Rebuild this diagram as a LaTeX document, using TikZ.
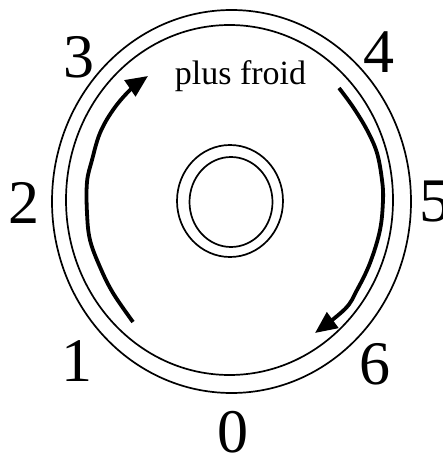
\documentclass[tikz,border=0pt]{standalone}
\usepackage{fontspec}
\setmainfont{Liberation Serif}
\usetikzlibrary{arrows.meta}
\begin{document}
\begin{tikzpicture}[x=1pt,y=-1pt,
  ring/.style={line width=1.7pt},
  flow/.style={line width=3.8pt,-{Triangle[length=22pt,width=19pt]}},
  num/.style={inner sep=0pt,font=\fontsize{62}{62}\selectfont},
  lbl/.style={inner sep=0pt,anchor=base,font=\fontsize{34}{34}\selectfont}]
\useasboundingbox (0,0) rectangle (442,457);
\fill[white] (0,0) rectangle (442,457);
% outer rings
\draw[ring] (231.5,201.5) ellipse [x radius=179.5pt, y radius=191.5pt];
\draw[ring] (229.5,200) ellipse [x radius=163.5pt, y radius=175pt];
% central rings
\draw[ring] (230,201) ellipse [x radius=53pt, y radius=56pt];
\draw[ring] (231,202) ellipse [x radius=41.5pt, y radius=45pt];
% arrows
\draw[flow] plot[smooth,tension=0.6] coordinates
  {(133,322) (113,293) (100,267) (90,240) (87,213) (87,182) (92,160) (100,133) (113,110) (130,90) (148,76)};
\draw[flow] plot[smooth,tension=0.6] coordinates
  {(339,88) (353,107) (367,130) (377,153) (382,180) (383,200) (380,230) (370,263) (357,290) (345,309) (315,333)};
% labels
\node[lbl] (t) at (240.5,85) {plus froid};
\node[num] (n0) at (233,432) {0};
\node[num] (n1) at (77,361) {1};
\node[num] (n2) at (24,203) {2};
\node[num] (n3) at (79,57) {3};
\node[num] (n4) at (379,52) {4};
\node[num] (n5) at (435,202) {5};
\node[num] (n6) at (375,364) {6};
\end{tikzpicture}
\end{document}
